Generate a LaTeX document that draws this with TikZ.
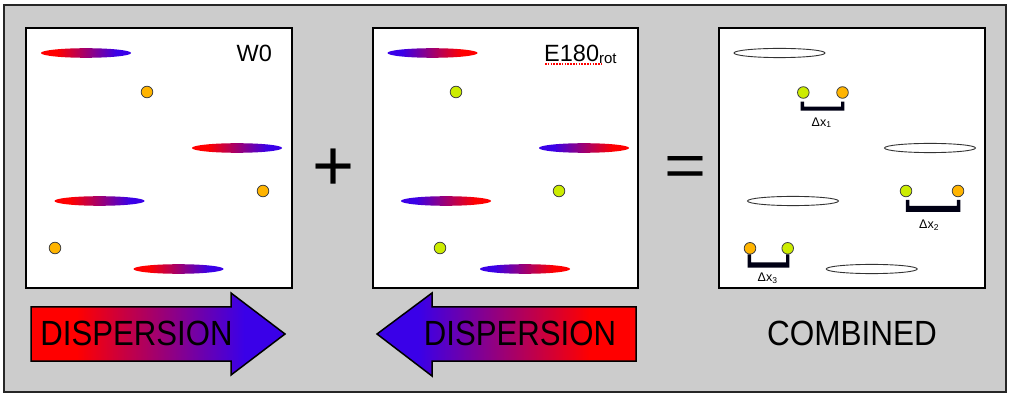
\documentclass[tikz,border=0pt]{standalone}
\usepackage{fontspec}
\setmainfont{Liberation Sans}
\usepackage{graphicx}
\definecolor{dred}{RGB}{255,0,0}
\definecolor{dblue}{RGB}{58,0,232}
\definecolor{dotorange}{RGB}{255,180,0}
\definecolor{dotgreen}{RGB}{204,236,0}
\definecolor{framegray}{RGB}{204,204,204}
\pgfdeclarehorizontalshading{disp}{100bp}{color(0bp)=(dred); color(34bp)=(dred); color(67bp)=(dblue); color(100bp)=(dblue)}
\begin{document}
\begin{tikzpicture}[x=1pt,y=-1pt,
  panel/.style={draw=black,line width=1.4pt,fill=white},
  odot/.style={circle,draw=black!75,line width=0.8pt,fill=dotorange,minimum size=11.6pt,inner sep=0pt},
  gdot/.style={odot,fill=dotgreen},
  pulse/.style={shading=disp},
  rpulse/.style={shading=disp,shading angle=180},
  empty/.style={draw=black!80,line width=0.9pt,fill=white},
  bigarrow/.style={draw=black,line width=1.5pt},
  bar/.style={fill=black!92!blue},
  lbl/.style={inner sep=0pt,anchor=base west,font=\fontsize{23.5}{26}\selectfont},
  dlbl/.style={inner sep=0pt,anchor=base west,font=\fontsize{12.5}{14}\selectfont},
  captxt/.style={inner sep=0pt,anchor=base,font=\fontsize{35}{40}\selectfont},
  sym/.style={inner sep=0pt,anchor=base,font=\fontsize{72}{80}\selectfont}
]
\useasboundingbox (0,0) rectangle (1012,395);
\fill[white] (0,0) rectangle (1012,395);
\draw[fill=framegray,draw=black!85,line width=1.4pt] (4,5) rectangle (1006,392);

% panels
\draw[panel] (26,28) rectangle (292,288);
\draw[panel] (373,28) rectangle (638,288);
\draw[panel] (719,28) rectangle (985,288);

% panel 1: W0
\shade[pulse] (86,53) ellipse (45 and 4.8);
\shade[pulse] (237,148) ellipse (45 and 4.8);
\shade[pulse] (99.5,201) ellipse (45 and 4.8);
\shade[pulse] (178.5,269) ellipse (45 and 4.8);
\node[odot] (w1) at (147,92) {};
\node[odot] (w2) at (263,191) {};
\node[odot] (w3) at (55,248) {};
\node[lbl] (wlab) at (236.5,62) {W0};

% panel 2: E180rot
\shade[rpulse] (432.5,53) ellipse (45 and 4.8);
\shade[rpulse] (584,148) ellipse (45 and 4.8);
\shade[rpulse] (446,201) ellipse (45 and 4.8);
\shade[rpulse] (525,269) ellipse (45 and 4.8);
\node[gdot] (e1) at (456,92) {};
\node[gdot] (e2) at (559,191) {};
\node[gdot] (e3) at (440,248) {};
\draw[red,line width=1.6pt,dash pattern=on 1.5pt off 1.3pt] (545,64.2) -- (602,64.2);
\node[lbl] (elab) at (544,62) {E180\raisebox{-1.5pt}{\fontsize{15}{16}\selectfont rot}};

% panel 3: combined
\draw[empty] (779.5,53) ellipse (45.5 and 4.6);
\draw[empty] (930,148) ellipse (45.5 and 4.6);
\draw[empty] (793,201) ellipse (45.5 and 4.6);
\draw[empty] (871.7,269) ellipse (45.5 and 4.6);
\node[gdot] (c1g) at (803.3,92.5) {};
\node[odot] (c1o) at (842.5,92.5) {};
\node[gdot] (c2g) at (906,191) {};
\node[odot] (c2o) at (958,191) {};
\node[odot] (c3o) at (750,248.3) {};
\node[gdot] (c3g) at (787.7,248.3) {};
% brackets
\fill[bar] (800.7,101.7) rectangle (804,110.7) (800.7,106.7) rectangle (844.3,110.7) (841,101.7) rectangle (844.3,110.7);
\fill[bar] (905.8,200) rectangle (909.3,212) (905.8,206) rectangle (960.3,212) (956.8,200) rectangle (960.3,212);
\fill[bar] (747.7,254.3) rectangle (751,267.7) (747.7,262.5) rectangle (789.3,267.7) (786,254.3) rectangle (789.3,267.7);
\node[dlbl] (d1) at (811.5,126.5) {Δx\raisebox{-1.5pt}{\fontsize{8.5}{9}\selectfont 1}};
\node[dlbl] (d2) at (919,229) {Δx\raisebox{-1.5pt}{\fontsize{8.5}{9}\selectfont 2}};
\node[dlbl] (d3) at (757.5,282) {Δx\raisebox{-1.5pt}{\fontsize{8.5}{9}\selectfont 3}};

% plus and equals
\node[sym] (plus) at (334,190.8) {+};
\node[sym] (eq) at (686,186.5) {\scalebox{1}[0.85]{=}};

% arrows
\shadedraw[shading=disp,bigarrow] (31,307) -- (231,307) -- (231,293) -- (285,334) -- (231,375) -- (231,361) -- (31,361) -- cycle;
\shadedraw[shading=disp,shading angle=180,bigarrow] (636,307) -- (432,307) -- (432,293) -- (377,334) -- (432,376) -- (432,361) -- (636,361) -- cycle;
\node[captxt] (t1) at (136.5,345) {\scalebox{0.89}[1]{DISPERSION}};
\node[captxt] (t2) at (520,345) {\scalebox{0.89}[1]{DISPERSION}};
\node[captxt] (t3) at (852,345) {\scalebox{0.9}[1]{COMBINED}};
\end{tikzpicture}
\end{document}
